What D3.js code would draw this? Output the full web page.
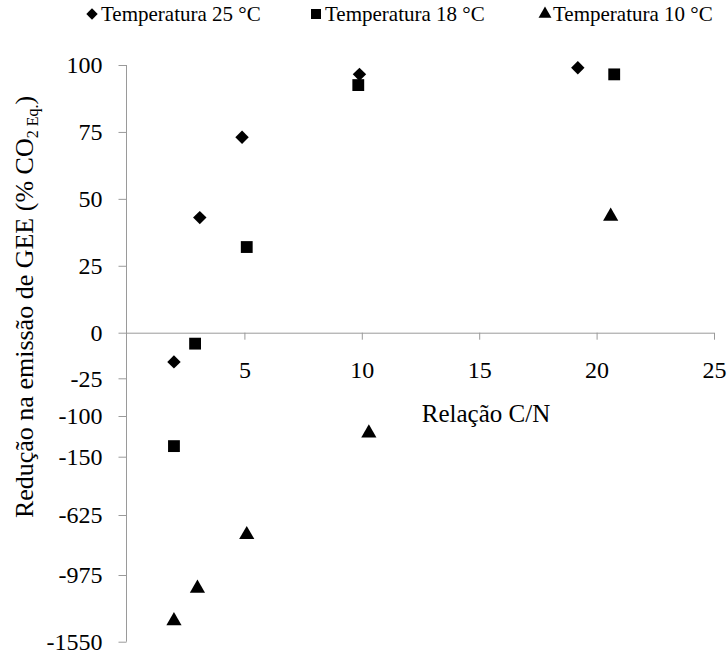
<!DOCTYPE html>
<html>
<head>
<meta charset="utf-8">
<script src="https://cdn.jsdelivr.net/npm/d3@7"></script>
<style>
  body { margin: 0; background: #fff; }
  svg { display: block; }
  svg text, svg tspan { font-family: "Liberation Serif", "Times New Roman", "DejaVu Serif", serif !important; fill: #000; }
</style>
</head>
<body>
<svg id="chart" width="728" height="650"></svg>
<script>
// ---- data ----
const seriesNames = ["Temperatura 25 °C", "Temperatura 18 °C", "Temperatura 10 °C"];
const cn25 = [2.0, 3.1, 4.9, 9.9, 19.2];
const red25 = [-16, 43, 73, 96.5, 99];
const cn18 = [2.9, 2.0, 5.1, 9.85, 20.75];
const red18 = [-6, -137, 32, 92.5, 96.5];
const cn10 = [2.0, 3.0, 5.1, 10.3, 20.6];
const red10 = [-1370, -1090, -740, -121, 43.5];
const xTicks = [5, 10, 15, 20, 25];
const yTicks = [100, 75, 50, 25, 0, -25, -100, -150, -625, -975, -1550];
// broken (piecewise) y axis break points
const yBreaks = [100, 0, -25, -100, -150, -625, -975, -1550];

// ---- layout ----
const svg = d3.select("#chart");
const xLeft = 127, xRight = 714;
const yBreakPos = [65, 332.7, 378.3, 416, 456.7, 515, 575, 641.7];

const x = d3.scaleLinear().domain([0, 25]).range([xLeft, xRight]);
const y = d3.scaleLinear().domain(yBreaks).range(yBreakPos);

const axisColor = "#9a9a9a";
const serif = "Liberation Serif";
const fmt = d => String(d); // plain hyphen-minus as in the original

// x axis at y = 0
const xAxisG = svg.append("g")
  .attr("transform", `translate(0,${y(0)})`)
  .call(d3.axisBottom(x).tickValues(xTicks).tickSize(7).tickPadding(21).tickFormat(fmt));
xAxisG.attr("font-family", serif).attr("font-size", 24);
xAxisG.select(".domain").attr("stroke", axisColor).attr("d", `M${xLeft},0.5H${xRight}`);
xAxisG.selectAll(".tick line").attr("stroke", axisColor);
xAxisG.selectAll(".tick text").style("font-family", serif).style("font-size", "24px");

// y axis
const yAxisG = svg.append("g")
  .attr("transform", `translate(${xLeft - 0.5},0)`)
  .call(d3.axisLeft(y).tickValues(yTicks).tickSize(8).tickPadding(16).tickFormat(fmt));
yAxisG.attr("font-family", serif).attr("font-size", 24);
yAxisG.select(".domain").attr("stroke", axisColor).attr("d", `M0,${y(100)}V${y(-1550)}`);
yAxisG.selectAll(".tick line").attr("stroke", axisColor);
yAxisG.selectAll(".tick text").style("font-family", serif).style("font-size", "24px").attr("dy", "0.33em");

// axis titles
svg.append("text")
  .attr("x", 486).attr("y", 422)
  .attr("text-anchor", "middle")
  .style("font-size", "25px")
  .text("Relação C/N");

const yt = svg.append("text")
  .attr("transform", "translate(33,307) rotate(-90)")
  .attr("text-anchor", "middle")
  .style("font-size", "26px");
yt.append("tspan").text("Redução na emissão de GEE (% CO");
yt.append("tspan").style("font-size", "16px").attr("dy", 5).text("2 Eq.");
yt.append("tspan").attr("dy", -5).text(")");

// markers
const diamond = d3.symbol().type(d3.symbolSquare).size(90);
const square = d3.symbol().type(d3.symbolSquare).size(140);
const triangle = d3.symbol().type(d3.symbolTriangle).size(100);

const series = [
  { name: seriesNames[0], xs: cn25, ys: red25, path: diamond(), rot: 45 },
  { name: seriesNames[1], xs: cn18, ys: red18, path: square(), rot: 0 },
  { name: seriesNames[2], xs: cn10, ys: red10, path: triangle(), rot: 0 }
];

series.forEach(s => {
  svg.append("g").selectAll("path")
    .data(s.xs.map((v, i) => [v, s.ys[i]]))
    .join("path")
    .attr("d", s.path)
    .attr("fill", "#000")
    .attr("transform", d => `translate(${x(d[0])},${y(d[1])}) rotate(${s.rot})`);
});

// legend
const legendMarkerX = [92, 316, 545];
const legendTextX = [101, 325, 553];
series.forEach((s, i) => {
  svg.append("path")
    .attr("d", s.path)
    .attr("fill", "#000")
    .attr("transform", `translate(${legendMarkerX[i]},14) rotate(${s.rot}) scale(0.85)`);
  svg.append("text")
    .attr("x", legendTextX[i]).attr("y", 21)
    .style("font-size", "21px")
    .text(s.name);
});
</script>
</body>
</html>
